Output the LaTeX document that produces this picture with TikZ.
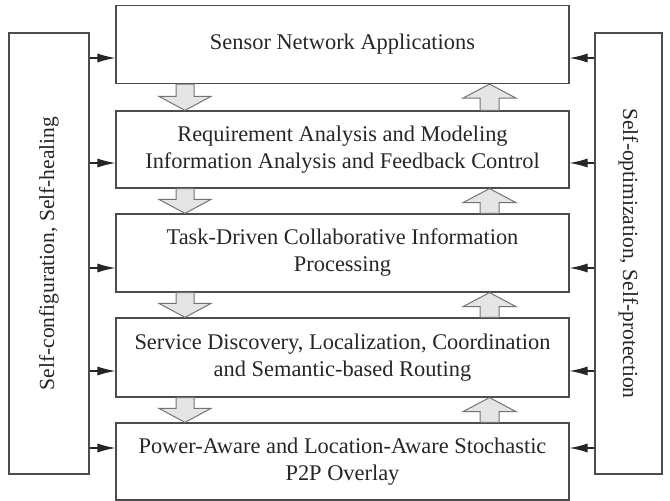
\documentclass[tikz,border=0pt]{standalone}
\usepackage{fontspec}
\setmainfont{Liberation Serif}
\usetikzlibrary{arrows.meta,calc}
\begin{document}
\begin{tikzpicture}[x=1pt,y=-1pt,
  layerbox/.style={draw=black!70,line width=1.2pt,minimum width=453pt,inner sep=0pt,
    align=center,font=\fontsize{22.4}{27}\selectfont,text=black!85},
  sidebox/.style={draw=black!70,line width=1.2pt,inner sep=0pt},
  sidelabel/.style={font=\fontsize{21.5}{26}\selectfont,text=black!85,inner sep=0pt},
  feed/.style={draw=black!85,line width=1.1pt,-{Latex[length=18pt,width=9pt]}},
  blk/.style={draw=black!55,fill=black!10,line width=1pt,line join=miter}
]
\useasboundingbox (0,0) rectangle (670,501);

% protocol layers
\node[layerbox,minimum height=78pt] (B1) at (342.5,44.5) {Sensor Network Applications};
\node[layerbox,minimum height=77pt] (B2) at (342.5,149.5)
  {Requirement Analysis and Modeling\\Information Analysis and Feedback Control};
\node[layerbox,minimum height=78pt] (B3) at (342.5,253)
  {Task-Driven Collaborative Information\\Processing};
\node[layerbox,minimum height=79pt] (B4) at (342.5,357.5)
  {Service Discovery, Localization, Coordination\\and Semantic-based Routing};
\node[layerbox,minimum height=77pt] (B5) at (342.5,461.5)
  {Power-Aware and Location-Aware Stochastic\\P2P Overlay};

% management planes
\node[sidebox,minimum width=80pt,minimum height=441pt] (L) at (49,253.5) {};
\node[sidelabel,rotate=90] (Ltxt) at (L.center) {Self-configuration, Self-healing};
\node[sidebox,minimum width=67pt,minimum height=441pt] (R) at (628.5,253.5) {};
\node[sidelabel,rotate=-90] (Rtxt) at (R.center) {Self-optimization, Self-protection};

% rows of the plane arrows
\coordinate (r1) at (0,58);
\coordinate (r2) at (0,163);
\coordinate (r3) at (0,268);
\coordinate (r4) at (0,371);
\coordinate (r5) at (0,448);
\foreach \b/\r in {B1/r1,B2/r2,B3/r3,B4/r4,B5/r5}{
  \draw[feed] (L.east |- \r) -- (\b.west |- \r);
  \draw[feed] (R.west |- \r) -- (\b.east |- \r);
}

% block arrows between layers: down on the left, up on the right
\coordinate (dx) at (185,0);
\coordinate (ux) at (489.5,0);
\foreach \a/\b [count=\i] in {B1/B2,B2/B3,B3/B4,B4/B5}{
  \coordinate (ds\i) at (\a.south -| dx);
  \coordinate (de\i) at (\b.north -| dx);
  \draw[blk] ([xshift=-9pt]ds\i) -- ([xshift=9pt]ds\i)
    -- ([xshift=9pt,yshift=14pt]de\i) -- ([xshift=26pt,yshift=14pt]de\i)
    -- (de\i) -- ([xshift=-26pt,yshift=14pt]de\i)
    -- ([xshift=-9pt,yshift=14pt]de\i) -- cycle;
  \coordinate (ut\i) at (\a.south -| ux);
  \coordinate (ub\i) at (\b.north -| ux);
  \draw[blk] ([xshift=-9.5pt]ub\i) -- ([xshift=-9.5pt,yshift=-14pt]ut\i)
    -- ([xshift=-26.5pt,yshift=-14pt]ut\i) -- (ut\i)
    -- ([xshift=26.5pt,yshift=-14pt]ut\i) -- ([xshift=9.5pt,yshift=-14pt]ut\i)
    -- ([xshift=9.5pt]ub\i) -- cycle;
}
\end{tikzpicture}
\end{document}
